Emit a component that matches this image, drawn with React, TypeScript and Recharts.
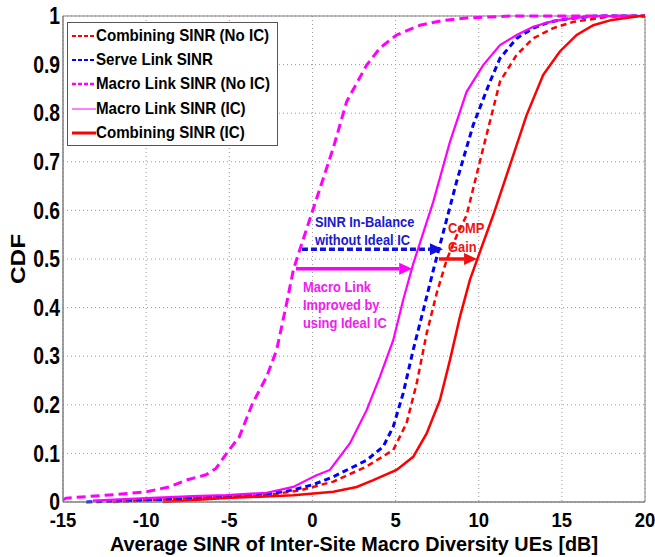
import {
  LineChart,
  Line,
  XAxis,
  YAxis,
  CartesianGrid,
  Legend,
  ReferenceArea,
  ReferenceLine,
  ReferenceDot,
} from "recharts";

const FONT = "'Liberation Sans', Arial, Helvetica, sans-serif";

// CDF curves: [average SINR (dB), CDF]
const combiningNoIc: [number, number][] = [
  [-12, 0.0], [-7.2, 0.008], [-2.75, 0.014], [-0.75, 0.024], [1.26, 0.042],
  [3.26, 0.073], [4.86, 0.107], [5.66, 0.162], [6.27, 0.244], [6.87, 0.347],
  [7.47, 0.429], [8.07, 0.498], [8.7, 0.55], [9.27, 0.59], [10.27, 0.728],
  [11.28, 0.865], [12.28, 0.92], [13.28, 0.954], [14.48, 0.975], [15.7, 0.988],
  [16.9, 0.994], [18, 1], [20, 1],
];

const serveLink: [number, number][] = [
  [-13.6, 0.0], [-10, 0.004], [-7, 0.008], [-5.2, 0.011], [-2.36, 0.018],
  [-1.15, 0.025], [0.06, 0.036], [1.26, 0.052], [3.26, 0.086], [4.26, 0.114],
  [4.86, 0.155], [5.46, 0.224], [6.06, 0.313], [6.67, 0.395], [7.27, 0.477],
  [7.6, 0.52], [8.67, 0.659], [9.67, 0.776], [10.68, 0.865], [11.28, 0.913],
  [12.28, 0.954], [13.28, 0.975], [14.28, 0.988], [15.3, 0.994], [17, 1], [20, 1],
];

const macroNoIc: [number, number][] = [
  [-15, 0.005], [-14.8, 0.008], [-12, 0.015], [-10, 0.021], [-8.6, 0.031],
  [-7.6, 0.045], [-6.4, 0.056], [-5.8, 0.069], [-5.1, 0.103], [-4.4, 0.134],
  [-3.6, 0.203], [-2.75, 0.258], [-2.15, 0.313], [-1.55, 0.409], [-1.15, 0.477],
  [-0.75, 0.52], [0.45, 0.645], [1.25, 0.728], [2.06, 0.824], [3.26, 0.899],
  [4.06, 0.934], [5.06, 0.961], [6.47, 0.981], [7.87, 0.991], [9.27, 0.996],
  [12, 1], [20, 1],
];

const macroIc: [number, number][] = [
  [-13.2, 0.003], [-10, 0.008], [-7.2, 0.012], [-5.2, 0.014], [-2.75, 0.019],
  [-1.15, 0.031], [-0.35, 0.045], [0.25, 0.055], [1.05, 0.066], [2.26, 0.121],
  [3.26, 0.189], [4.06, 0.258], [4.86, 0.333], [5.46, 0.416], [6.06, 0.49],
  [7.27, 0.618], [8.27, 0.741], [9.27, 0.844], [10.27, 0.899], [11.28, 0.94],
  [12.28, 0.961], [13.28, 0.978], [14.28, 0.988], [15.3, 0.994], [17, 1], [20, 1],
];

const combiningIc: [number, number][] = [
  [-9, 0.0], [-5.2, 0.008], [-1.15, 0.014], [0.25, 0.018], [1.26, 0.021],
  [2.66, 0.031], [3.66, 0.045], [5.06, 0.066], [6.06, 0.093], [6.87, 0.141],
  [7.67, 0.21], [8.27, 0.292], [8.87, 0.381], [9.47, 0.457], [9.97, 0.505],
  [10.88, 0.591], [11.88, 0.693], [12.88, 0.796], [13.88, 0.879], [14.88, 0.927],
  [15.89, 0.961], [16.89, 0.981], [18, 0.992], [19.7, 1], [20, 1],
];

const xTicks = [-15, -10, -5, 0, 5, 10, 15, 20];
const yTicks = [0, 0.1, 0.2, 0.3, 0.4, 0.5, 0.6, 0.7, 0.8, 0.9, 1];

const legendOrder = [
  "Combining SINR (No IC)",
  "Serve Link SINR",
  "Macro Link SINR (No IC)",
  "Macro Link SINR (IC)",
  "Combining SINR (IC)",
];

const toPoints = (arr: [number, number][]) => arr.map(([x, y]) => ({ x, y }));

const RED = "#ff0000";
const BLUE = "#0000ff";
const MAGENTA = "#ff00ff";

// how each series looks in the legend box
const legendLook: Record<string, { dash?: string; width: number }> = {
  "Combining SINR (No IC)": { dash: "4 2", width: 2 },
  "Serve Link SINR": { dash: "4 2", width: 2 },
  "Macro Link SINR (No IC)": { dash: "4 2", width: 2.5 },
  "Macro Link SINR (IC)": { width: 1 },
  "Combining SINR (IC)": { width: 3 },
};

const renderLegend = (props: any) => {
  const items = [...(props.payload || [])].sort(
    (a: any, b: any) => legendOrder.indexOf(a.value) - legendOrder.indexOf(b.value)
  );
  return (
    <div
      style={{
        width: 211,
        height: 124,
        boxSizing: "border-box",
        border: "1px solid #555",
        background: "#fff",
        padding: "1px 0 0 4px",
        fontFamily: FONT,
        fontWeight: "bold",
        fontSize: 17,
        color: "#000",
        textAlign: "left",
        whiteSpace: "nowrap",
        overflow: "hidden",
      }}
    >
      {items.map((e: any) => {
        const look = legendLook[e.value] || { width: 2 };
        return (
          <div key={e.value} style={{ display: "flex", alignItems: "center", height: 24.2 }}>
            <svg width={24} height={10} style={{ flex: "none" }}>
              <line
                x1={0}
                y1={5}
                x2={24}
                y2={5}
                stroke={e.color}
                strokeWidth={look.width}
                strokeDasharray={look.dash}
              />
            </svg>
            <span
              style={{
                display: "inline-block",
                transform: "scaleX(0.89)",
                transformOrigin: "left center",
              }}
            >
              {e.value}
            </span>
          </div>
        );
      })}
    </div>
  );
};

const arrowShape = (color: string, dash?: string) => (p: any) => {
  const { x1, y1, x2, y2 } = p;
  const len = 13;
  const half = 6;
  const dir = x2 >= x1 ? 1 : -1;
  const bx = x2 - dir * len;
  return (
    <g>
      <line x1={x1} y1={y1} x2={bx} y2={y2} stroke={color} strokeWidth={3.5} strokeDasharray={dash} />
      <polygon points={`${x2},${y2} ${bx},${y2 - half} ${bx},${y2 + half}`} fill={color} />
    </g>
  );
};

const textBlock = (lines: string[], color: string, lineGap: number) => (p: any) => (
  <text
    transform={`translate(${p.cx},${p.cy}) scale(0.86,1)`}
    x={0}
    y={0}
    fill={color}
    fontFamily={FONT}
    fontWeight="bold"
    fontSize={15}
  >
    {lines.map((l, i) => (
      <tspan key={i} x={0} dy={i === 0 ? 0 : lineGap}>
        {l}
      </tspan>
    ))}
  </text>
);

const XTick = (p: any) => (
  <text
    transform={`translate(${p.x},${p.y}) scale(0.88,1)`}
    x={0}
    y={0}
    dy="0.71em"
    textAnchor="middle"
    fill="#000"
    fontFamily={FONT}
    fontWeight="bold"
    fontSize={21}
  >
    {p.payload.value}
  </text>
);

const YTick = (p: any) => (
  <text
    transform={`translate(${p.x},${p.y}) scale(0.84,1)`}
    x={0}
    y={0}
    dy="0.36em"
    textAnchor="end"
    fill="#000"
    fontFamily={FONT}
    fontWeight="bold"
    fontSize={23}
  >
    {String(p.payload.value)}
  </text>
);

export default function App() {
  return (
    <div style={{ position: "absolute", left: 0, top: 0, width: 655, height: 557, background: "#fff" }}>
      <LineChart width={655} height={557} margin={{ top: 16, right: 10, bottom: 0, left: 0 }}>
        <CartesianGrid stroke="#9a9a9a" strokeDasharray="1 3" />
        <XAxis
          type="number"
          dataKey="x"
          domain={[-15, 20]}
          ticks={xTicks}
          allowDataOverflow
          height={55}
          tickSize={0}
          tickMargin={10}
          tick={<XTick />}
          axisLine={{ stroke: "#808080" }}
          tickLine={false}
          label={{
            content: (lp: any) => {
              const vb = lp.viewBox || { x: 63, y: 502, width: 582 };
              return (
                <text
                  x={vb.x + vb.width / 2}
                  y={vb.y + 49}
                  textAnchor="middle"
                  textLength={488}
                  lengthAdjust="spacingAndGlyphs"
                  fontFamily={FONT}
                  fontWeight="bold"
                  fontSize={21}
                  fill="#000"
                >
                  Average SINR of Inter-Site Macro Diversity UEs [dB]
                </text>
              );
            },
          }}
        />
        <YAxis
          type="number"
          domain={[0, 1]}
          ticks={yTicks}
          width={63}
          tickSize={0}
          tickMargin={3}
          tick={<YTick />}
          axisLine={{ stroke: "#808080" }}
          tickLine={false}
          label={{
            content: (lp: any) => {
              const vb = lp.viewBox || { x: 0, y: 16, height: 486 };
              const cy = vb.y + vb.height / 2;
              return (
                <text
                  x={25}
                  y={cy}
                  transform={`rotate(-90 25 ${cy})`}
                  textAnchor="middle"
                  textLength={50}
                  lengthAdjust="spacingAndGlyphs"
                  fontFamily={FONT}
                  fontWeight="bold"
                  fontSize={21}
                  fill="#000"
                >
                  CDF
                </text>
              );
            },
          }}
        />
        <ReferenceArea x1={-15} x2={20} y1={0} y2={1} fill="none" stroke="#808080" strokeWidth={1} />
        <Legend
          layout="vertical"
          align="center"
          verticalAlign="middle"
          content={renderLegend}
          wrapperStyle={{ left: 67, top: 22, width: 211, height: 124 }}
        />

        <Line
          name="Combining SINR (No IC)"
          data={toPoints(combiningNoIc)}
          dataKey="y"
          stroke={RED}
          strokeWidth={2.5}
          strokeDasharray="6 4"
          dot={false}
          isAnimationActive={false}
        />
        <Line
          name="Serve Link SINR"
          data={toPoints(serveLink)}
          dataKey="y"
          stroke={BLUE}
          strokeWidth={3}
          strokeDasharray="6 4"
          dot={false}
          isAnimationActive={false}
        />
        <Line
          name="Macro Link SINR (No IC)"
          data={toPoints(macroNoIc)}
          dataKey="y"
          stroke={MAGENTA}
          strokeWidth={3}
          strokeDasharray="9 5"
          dot={false}
          isAnimationActive={false}
        />
        <Line
          name="Macro Link SINR (IC)"
          data={toPoints(macroIc)}
          dataKey="y"
          stroke={MAGENTA}
          strokeWidth={2.2}
          dot={false}
          isAnimationActive={false}
        />
        <Line
          name="Combining SINR (IC)"
          data={toPoints(combiningIc)}
          dataKey="y"
          stroke={RED}
          strokeWidth={2.5}
          dot={false}
          isAnimationActive={false}
        />

        {/* annotations */}
        <ReferenceLine
          segment={[{ x: -0.63, y: 0.52 }, { x: 7.85, y: 0.52 }]}
          shape={arrowShape("#1010e0", "6 3")}
        />
        <ReferenceLine
          segment={[{ x: -0.99, y: 0.48 }, { x: 6.0, y: 0.48 }]}
          shape={arrowShape(MAGENTA)}
        />
        <ReferenceLine
          segment={[{ x: 7.6, y: 0.5 }, { x: 9.9, y: 0.5 }]}
          shape={arrowShape("#f01010")}
        />
        <ReferenceDot
          x={0.15}
          y={0.566}
          r={0}
          shape={textBlock(["SINR In-Balance", "without Ideal IC"], "#1a1ad0", 18.5)}
        />
        <ReferenceDot x={8.15} y={0.553} r={0} shape={textBlock(["CoMP", "Gain"], "#ee1515", 19)} />
        <ReferenceDot
          x={-0.57}
          y={0.432}
          r={0}
          shape={textBlock(["Macro Link", "Improved by", "using Ideal IC"], "#f020f0", 18)}
        />
      </LineChart>
    </div>
  );
}
